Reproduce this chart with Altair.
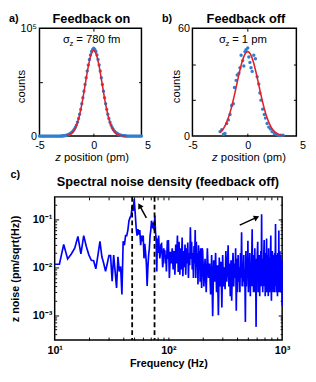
import numpy as np
import pandas as pd
import altair as alt

FONT = "Liberation Sans"
DOT = "#2f7fd1"
RED = "#e2202a"
BLUE = "#0000ff"

H_TOP = 110
W_A, W_B, W_C, H_C = 104, 106, 232, 146

# ---------------- panel a: feedback on (histogram, bins of 0.1 pm from -5) ----------------
a_bin_start = -5.0
a_bin_width = 0.1
a_counts = [
    0, 0, 0, 0, 0, 0, 0, 0, 0, 0,
    0, 0, 0, 0, 0, 0, 0, 0, 0, 0,
    100, 150, 250, 380, 550, 800, 1100, 1500, 2100, 2800,
    3700, 4800, 6200, 8000, 10200, 12900, 16300, 20200, 24800, 30000,
    35600, 41600, 47900, 54100, 60300, 66000, 71000, 75200, 78400, 80300,
    81500,
    80300, 78400, 75200, 71000, 66000, 60300, 54100, 47900, 41600, 35600,
    30000, 24800, 20200, 16300, 12900, 10200, 8000, 6200, 4800, 3700,
    2800, 2100, 1500, 1100, 800, 550, 380, 250, 150, 100,
    0, 0, 0, 0, 0, 0, 0, 0, 0, 0, 0, 0, 0, 0,
]
a_fit_z = [-2.5, -2.25, -2.0, -1.75, -1.5, -1.25, -1.0, -0.75, -0.5, -0.25, 0.0,
           0.25, 0.5, 0.75, 1.0, 1.25, 1.5, 1.75, 2.0, 2.25, 2.5, 2.75, 3.0]
a_fit_counts = [470, 1240, 2970, 6420, 12500, 22000, 34960, 50100, 64700, 75500, 79500,
                75500, 64700, 50100, 34960, 22000, 12500, 6420, 2970, 1240, 470, 160, 50]

# ---------------- panel b: feedback off ----------------
b_dot_z = [-2.5, -2.35, -2.2, -2.05, -1.9, -1.75, -1.6, -1.45, -1.3, -1.2,
           -1.05, -0.95, -0.8, -0.7, -0.6, -0.45, -0.35, -0.25, -0.15, 0.0,
           0.1, 0.2, 0.3, 0.4, 0.55, 0.7, 0.85, 1.0, 1.1, 1.2,
           1.35, 1.5, 1.6, 1.75, 1.9, 2.05, 2.2, 2.4, 2.6, 2.8, 3.0, 3.2]
b_dot_counts = [2.5, 3.5, 1.0, 1.5, 7, 9, 12, 17, 18, 27,
                31, 34, 35, 38, 45, 42, 39, 47, 48, 49,
                44, 41, 38, 36, 45, 43, 33, 29, 24, 20,
                15, 12, 10, 7, 5, 4, 2.5, 1.5, 1.0, 0.5, 0.5, 0.5]
b_fit_z = [-2.5, -2.25, -2.0, -1.75, -1.5, -1.25, -1.0, -0.75, -0.5, -0.25, 0.0,
           0.25, 0.5, 0.75, 1.0, 1.25, 1.5, 1.75, 2.0, 2.25, 2.5, 2.75, 3.0, 3.25]
b_fit_counts = [2.1, 3.7, 6.4, 10.2, 15.3, 21.5, 28.5, 35.5, 41.5, 45.6, 47.0,
                45.6, 41.5, 35.5, 28.5, 21.5, 15.3, 10.2, 6.4, 3.7, 2.1, 1.07, 0.52, 0.24]

# tick label printed just outside the right edge of panels a and b
edge_tick = [5]

# ---------------- panel c: spectral noise density (units of 1e-3 pm/sqrt(Hz)) ----------------
# 10..99 Hz, 1 Hz step
noise_seg1 = [
    11.6, 11.6, 30, 15, 19, 25, 44, 19, 46, 27,
    18, 14, 13.7, 9.3, 18, 35, 16.6, 12, 8.2, 12,
    17.5, 17.5, 5.1, 18, 8.2, 3.7, 16.6, 8.2, 10.4, 2.7,
    35, 29, 46, 46, 60, 94, 110, 120, 190, 150,
    270, 139, 69, 46, 63, 48, 60, 29, 46, 35,
    46, 15.4, 31, 20, 12, 4.1, 10, 18, 25, 46,
    60, 94, 74, 65, 87, 60, 120, 54, 40, 8.2,
    40, 20, 46, 25, 15.4, 20, 30, 31, 20, 10,
    13.1, 25, 20, 22.8, 12, 18, 8.2, 20, 36.6, 15,
]
# 100..198 Hz, 2 Hz step
noise_seg2 = [
    37, 6, 21, 12, 25, 9, 22, 7, 30, 12,
    46, 8, 34, 7, 25, 9, 42, 6.5, 22, 10,
    30, 7, 25, 12, 33, 6, 20, 11, 69, 15,
    34, 9, 20, 6, 28, 12, 60, 6, 34, 10,
    20, 4.4, 29, 9, 22, 5, 25, 8, 3.7, 25,
]
# 200..1000 Hz, 5 Hz step
noise_seg3 = [
    22, 4, 15, 3, 25, 6, 12, 2.7, 18, 0.95,
    14, 5, 20, 3, 11, 1.0, 16, 4, 13, 1.45,
    18, 4, 10, 3.5, 22, 5, 9, 29, 4, 12,
    2.5, 14, 2.0, 9, 20, 4, 12, 6, 25, 1.24,
    15, 3, 18, 5, 10, 3, 20, 6, 54, 4,
    12, 5, 18, 4, 9, 0.72, 22, 4, 14, 6,
    36, 3, 12, 5, 20, 2.5, 10, 4, 15, 62,
    4, 18, 3, 10, 6, 25, 3, 12, 0.57, 15,
    5, 20, 34, 3, 12, 4, 18, 2.5, 10, 5,
    22, 4, 128, 6, 15, 3, 12, 5, 20, 37,
    4, 14, 2.5, 20, 5, 12, 40, 3, 18, 6,
    12, 2.5, 25, 5, 10, 3, 16, 4, 20, 46,
    5, 2.0, 14, 4, 22, 6, 10, 3, 18, 5,
    12, 3, 20, 5, 15, 80, 4, 10, 3, 18,
    5, 12, 2.5, 20, 6, 14, 3, 59, 4, 15,
    5, 22, 3, 12, 4, 18, 6, 10, 3, 14,
    1.6,
]
dashed_freqs = [48, 75.5]
arrow_tail_f = [64, 424]
arrow_tail_n = [0.108, 0.076]
arrow_head_f = [55.8, 597]
arrow_head_n = [0.194, 0.110]
arrow_head_angle = [331, 66]

# ---------------- helpers ----------------
def tick_axis(orient, offset, values, size):
    return alt.Axis(orient=orient, offset=offset, values=values, labels=False,
                    domain=False, grid=False, ticks=True, tickSize=size,
                    tickColor="black", tickWidth=1, title=None)


def txt(s, x, y, size, weight="normal", style="normal", align="left"):
    return alt.Chart(pd.DataFrame({"t": [s]})).mark_text(
        align=align, baseline="alphabetic", fontSize=size, fontWeight=weight,
        fontStyle=style, color="black", font=FONT
    ).encode(text="t:N", x=alt.value(x), y=alt.value(y))


def frame_box(x1, x2, y1, y2):
    # invisible box that fixes the extent each panel takes in the layout
    return alt.Chart(pd.DataFrame({"k": [0]})).mark_rect(opacity=0).encode(
        x=alt.value(x1), x2=alt.value(x2), y=alt.value(y1), y2=alt.value(y2))


def hist_panel(dot_z, dot_c, fit_z, fit_c, width, ymax, ylab_expr, ymid, letter,
               title, title_x, sigma_rest, sigma_x, ztitle_x, counts_x, box):
    xs = alt.Scale(domain=[-5, 4.4], nice=False, zero=False)
    ys = alt.Scale(domain=[0, ymax], nice=False, zero=False)
    dots = pd.DataFrame({"z": dot_z, "counts": dot_c})
    fit = pd.DataFrame({"z": fit_z, "counts": fit_c})
    x_main = alt.Axis(orient="bottom", values=[-5, 0],
                      labelExpr="datum.value < 0 ? '-' + format(-datum.value, 'd') : format(datum.value, 'd')",
                      ticks=False, tickSize=0, domain=False, grid=False, labelPadding=4,
                      labelFontSize=11, labelFlush=False, labelOverlap=False, title=None)
    y_main = alt.Axis(orient="left", values=[0, ymax], labelExpr=ylab_expr,
                      ticks=False, tickSize=0, domain=False, grid=False, labelPadding=3,
                      labelFontSize=11, labelFlush=False, labelOverlap=False,
                      labelBaseline="middle", title="counts", titleFontSize=11.5,
                      titleFontWeight="normal", titleAngle=270, titleX=counts_x, titleY=59,
                      titleAlign="center", titleBaseline="middle")
    pts = alt.Chart(dots).mark_circle(size=12, color=DOT, opacity=1).encode(
        x=alt.X("z:Q", scale=xs, axis=x_main),
        y=alt.Y("counts:Q", scale=ys, axis=y_main))
    line = alt.Chart(fit).mark_line(color=RED, strokeWidth=1.6, interpolate="monotone").encode(
        x=alt.X("z:Q", scale=xs, axis=tick_axis("top", -H_TOP, [0], 3)),
        y=alt.Y("counts:Q", scale=ys, axis=tick_axis("right", -width, ymid, 3)))
    carrier = alt.Chart(fit).mark_point(opacity=0).encode(
        x=alt.X("z:Q", scale=xs, axis=tick_axis("bottom", -H_TOP, [0], 3)),
        y=alt.Y("counts:Q", scale=ys, axis=tick_axis("left", -width, ymid, 3)))
    edge_label = alt.Chart(pd.DataFrame({"z": edge_tick})).mark_text(
        align="center", baseline="top", fontSize=11, color="black", font=FONT
    ).encode(x=alt.X("z:Q", scale=xs, axis=None), y=alt.value(H_TOP + 4),
             text=alt.Text("z:Q", format="d"))
    texts = [
        txt(title, title_x, -5.5, 13, weight="bold", align="center"),
        txt(letter, -31, -6.5, 11, weight="bold"),
        txt("σ", sigma_x, 15.5, 11.5),
        txt("z", sigma_x + 6.6, 18.5, 8),
        txt(sigma_rest, sigma_x + 13.5, 15.5, 11.5),
        txt("z", ztitle_x, 135, 11.5, style="italic"),
        txt("position (pm)", ztitle_x + 9, 135, 11.5),
    ]
    return alt.layer(pts, line, carrier, edge_label, frame_box(*box), *texts).resolve_axis(
        x="independent", y="independent"
    ).properties(width=width, height=H_TOP)


a_z = [round(a_bin_start + a_bin_width * i, 2) for i in range(len(a_counts))]

panel_a = hist_panel(a_z, a_counts, a_fit_z, a_fit_counts, W_A, 100000,
                     "datum.value == 0 ? '0' : '10⁵'", [50000], "a)", "Feedback on", 53,
                     "= 780 fm", 24, 16, -18, (0, 120, 0, 138))
panel_b = hist_panel(b_dot_z, b_dot_counts, b_fit_z, b_fit_counts, W_B, 60,
                     "datum.label", [20, 40], "b)", "Feedback off", 54.5,
                     "= 1 pm", 27, 20, -16.5, (-34, 117, 0, 138))

# ---------------- panel c ----------------
freqs = ([10 + i for i in range(len(noise_seg1))]
         + [100 + 2 * i for i in range(len(noise_seg2))]
         + [200 + 5 * i for i in range(len(noise_seg3))])
noise = [v * 1e-3 for v in noise_seg1 + noise_seg2 + noise_seg3]
df_c = pd.DataFrame({"f": freqs, "n": noise})

xc = alt.Scale(type="log", domain=[10, 1000], nice=False)
yc = alt.Scale(type="log", domain=[3.03e-4, 0.296], nice=False)

xc_main = alt.Axis(orient="bottom", values=[10, 100, 1000],
                   labelExpr="datum.value < 50 ? '10¹' : (datum.value < 500 ? '10²' : '10³')",
                   ticks=False, tickSize=0, domain=False, grid=False, labelPadding=5,
                   labelFontSize=11, labelFontWeight="bold", labelFlush=False,
                   labelOverlap=False, title="Frequency (Hz)", titleFontSize=11,
                   titleFontWeight="bold", titlePadding=2)
yc_main = alt.Axis(orient="left", values=[0.001, 0.01, 0.1],
                   labelExpr="datum.value < 0.005 ? '10⁻³' : (datum.value < 0.05 ? '10⁻²' : '10⁻¹')",
                   ticks=False, tickSize=0, domain=False, grid=False, labelPadding=3,
                   labelFontSize=11, labelFontWeight="bold", labelFlush=False,
                   labelOverlap=False, labelBaseline="middle",
                   title="z noise (pm/sqrt(Hz))", titleFontSize=11, titleFontWeight="bold",
                   titleAngle=270, titleX=-39.5, titleY=H_C / 2, titleAlign="center",
                   titleBaseline="middle")

x_minor = [20, 30, 40, 50, 60, 70, 80, 90, 100, 200, 300, 400, 500, 600, 700, 800, 900]
y_major = [0.001, 0.01, 0.1]
y_minor = [0.0004, 0.0005, 0.0006, 0.0007, 0.0008, 0.0009,
           0.002, 0.003, 0.004, 0.005, 0.006, 0.007, 0.008, 0.009,
           0.02, 0.03, 0.04, 0.05, 0.06, 0.07, 0.08, 0.09, 0.2]

c_line = alt.Chart(df_c).mark_line(color=BLUE, strokeWidth=1.7).encode(
    x=alt.X("f:Q", scale=xc, axis=xc_main),
    y=alt.Y("n:Q", scale=yc, axis=yc_main))

carrier_df = pd.DataFrame({"f": [10, 1000], "n": [0.001, 0.1]})
c_car1 = alt.Chart(carrier_df).mark_point(opacity=0).encode(
    x=alt.X("f:Q", scale=xc, axis=tick_axis("top", -H_C, x_minor, 3)),
    y=alt.Y("n:Q", scale=yc, axis=tick_axis("right", -W_C, y_major, 4)))
c_car2 = alt.Chart(carrier_df).mark_point(opacity=0).encode(
    x=alt.X("f:Q", scale=xc, axis=tick_axis("bottom", -H_C, x_minor, 3)),
    y=alt.Y("n:Q", scale=yc, axis=tick_axis("right", -W_C, y_minor, 2)))
c_car3 = alt.Chart(carrier_df).mark_point(opacity=0).encode(
    x=alt.X("f:Q", scale=xc, axis=None),
    y=alt.Y("n:Q", scale=yc, axis=tick_axis("left", -W_C, y_major, 4)))
c_car4 = alt.Chart(carrier_df).mark_point(opacity=0).encode(
    x=alt.X("f:Q", scale=xc, axis=None),
    y=alt.Y("n:Q", scale=yc, axis=tick_axis("left", -W_C, y_minor, 2)))

c_dash = alt.Chart(pd.DataFrame({"f": dashed_freqs})).mark_rule(
    color="black", strokeWidth=1.8, strokeDash=[5, 3]
).encode(x=alt.X("f:Q", scale=xc, axis=None))

arrows = pd.DataFrame({"f": arrow_tail_f, "n": arrow_tail_n,
                       "f2": arrow_head_f, "n2": arrow_head_n, "ang": arrow_head_angle})
c_shaft = alt.Chart(arrows).mark_rule(color="black", strokeWidth=1.5).encode(
    x=alt.X("f:Q", scale=xc, axis=None), y=alt.Y("n:Q", scale=yc, axis=None),
    x2="f2:Q", y2="n2:Q")
c_head = alt.Chart(arrows).mark_point(shape="triangle-up", filled=True, color="black",
                                      size=40, opacity=1).encode(
    x=alt.X("f2:Q", scale=xc, axis=None), y=alt.Y("n2:Q", scale=yc, axis=None),
    angle=alt.Angle("ang:Q", scale=None))

panel_c = alt.layer(
    c_line, c_car1, c_car2, c_car3, c_car4, c_dash, c_shaft, c_head,
    frame_box(0, 242, -30, 146),
    txt("Spectral noise density (feedback off)", 115.5, -11, 13, weight="bold", align="center"),
    txt("c)", -45, -19, 11, weight="bold"),
).resolve_axis(x="independent", y="independent").properties(width=W_C, height=H_C)

top_row = alt.hconcat(panel_a, panel_b, spacing=0)
chart = alt.vconcat(top_row, panel_c, spacing=2, center=True).properties(
    padding={"left": 0, "top": 0, "right": 0, "bottom": 0}
).configure_view(
    stroke="black", strokeWidth=1.5
).configure_axis(
    labelFont=FONT, titleFont=FONT, labelColor="black", titleColor="black"
).configure_text(font=FONT)

chart.save("out.html", embed_options={"renderer": "svg", "actions": False})
